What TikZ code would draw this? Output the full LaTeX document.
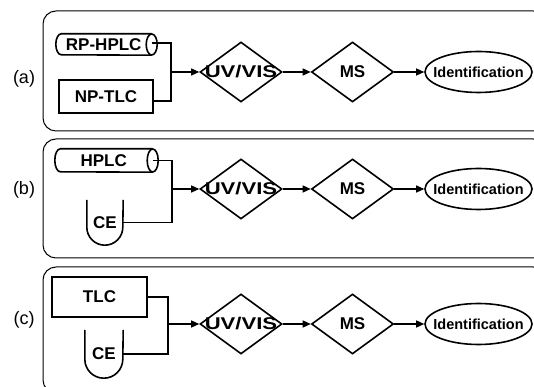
\documentclass[tikz,border=0pt]{standalone}
\usepackage{fontspec}
\setmainfont{Liberation Sans}
\usetikzlibrary{shapes.geometric,arrows.meta}
\begin{document}
\begin{tikzpicture}[x=1pt,y=1pt,
  panel/.style={draw, line width=1pt, rounded corners=13pt},
  lab/.style={inner sep=0pt, font=\fontsize{18}{18}\selectfont},
  nd/.style={draw, line width=1.6pt, inner sep=0pt, font=\bfseries\fontsize{17}{17}\selectfont},
  coltext/.style={inner sep=0pt, font=\bfseries\fontsize{17}{17}\selectfont},
  tlcbox/.style={nd, rectangle},
  dia/.style={nd, diamond, minimum width=82pt, minimum height=60pt},
  ell/.style={nd, ellipse, minimum width=107pt, minimum height=41pt, font=\bfseries\fontsize{14.5}{14.5}\selectfont},
  tubetext/.style={inner sep=0pt, font=\bfseries\fontsize{17}{17}\selectfont},
  tube/.style={line width=1.6pt},
  conn/.style={line width=1.3pt},
  arr/.style={conn, -{Triangle[length=8pt,width=7pt]}}
]
\useasboundingbox (0,0) rectangle (534,387);
\clip (0,0) rectangle (534,387);

% ---------- panel (a)
\draw[panel] (43,376) rectangle (546,256);
\node[lab] (la) at (24,308) {(a)};
\node[coltext, minimum width=95.5pt, minimum height=21pt] (rp) at (103.75,342.5) {RP-HPLC};
\draw[tube] (rp.north east) -- ([xshift=5.5pt]rp.north west) arc[start angle=90,end angle=270,x radius=5.5pt,y radius=10.5pt] -- (rp.south east);
\draw[tube] (rp.east) ellipse[x radius=5.5pt,y radius=10.5pt];
\node[tlcbox, minimum width=94pt, minimum height=33pt] (np) at (106,290.5) {NP-TLC};
\coordinate (ja) at (171,315);
\node[dia] (uva) at (241,315) {\makebox[0pt]{\scalebox{1.3}[1]{UV/VIS}}};
\node[dia] (msa) at (352.5,315) {MS};
\node[ell] (ida) at (478.5,315) {\makebox[0pt]{Identification}};
\draw[conn] ([yshift=1.5pt]rp.east) -| (ja);
\draw[conn] ([yshift=-4.5pt]np.east) -| (ja);
\draw[arr] (ja) -- (uva.west);
\draw[arr] (uva.east) -- (msa.west);
\draw[arr] (msa.east) -- (ida.west);

% ---------- panel (b)
\draw[panel] (43,248) rectangle (546,129);
\node[lab] (lb) at (24,197) {(b)};
\node[coltext, minimum width=97.5pt, minimum height=23pt] (hp) at (103.75,226.5) {HPLC};
\draw[tube] (hp.north east) -- ([xshift=5.5pt]hp.north west) arc[start angle=90,end angle=270,x radius=5.5pt,y radius=11.5pt] -- (hp.south east);
\draw[tube] (hp.east) ellipse[x radius=5.5pt,y radius=11.5pt];
\node[tubetext, minimum width=36pt, minimum height=45pt] (ceb) at (105,164.5) {CE};
\draw[tube] (ceb.north west) -- ([yshift=18pt]ceb.south west) arc[start angle=180,end angle=360,radius=18pt] -- (ceb.north east);
\coordinate (jb) at (172,198);
\node[dia] (uvb) at (241,198) {\makebox[0pt]{\scalebox{1.3}[1]{UV/VIS}}};
\node[dia] (msb) at (352.5,198) {MS};
\node[ell] (idb) at (478.5,198) {\makebox[0pt]{Identification}};
\draw[conn] (hp.east) -| (jb);
\draw[conn] (ceb.east) -| (jb);
\draw[arr] (jb) -- (uvb.west);
\draw[arr] (uvb.east) -- (msb.west);
\draw[arr] (msb.east) -- (idb.west);

% ---------- panel (c)
\draw[panel] (43,120) rectangle (546,-6);
\node[lab] (lc) at (24,67) {(c)};
\node[tlcbox, minimum width=95pt, minimum height=40pt] (tlc) at (99.5,90) {TLC};
\node[tubetext, minimum width=38pt, minimum height=48pt] (cec) at (104,33) {CE};
\draw[tube] (cec.north west) -- ([yshift=19pt]cec.south west) arc[start angle=180,end angle=360,radius=19pt] -- (cec.north east);
\coordinate (jc) at (168,63);
\node[dia] (uvc) at (241,63) {\makebox[0pt]{\scalebox{1.3}[1]{UV/VIS}}};
\node[dia] (msc) at (352.5,63) {MS};
\node[ell] (idc) at (478.5,63) {\makebox[0pt]{Identification}};
\draw[conn] (tlc.east) -| (jc);
\draw[conn] (cec.east) -| (jc);
\draw[arr] (jc) -- (uvc.west);
\draw[arr] (uvc.east) -- (msc.west);
\draw[arr] (msc.east) -- (idc.west);
\end{tikzpicture}
\end{document}
